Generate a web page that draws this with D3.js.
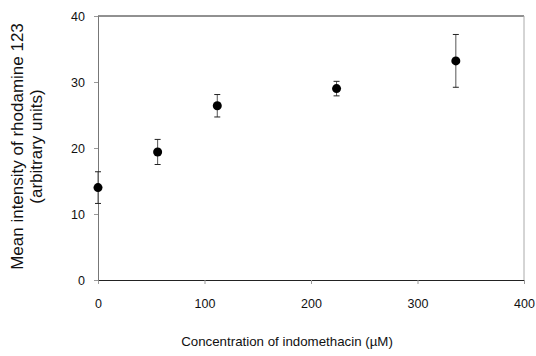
<!DOCTYPE html>
<html>
<head>
<meta charset="utf-8">
<script src="https://cdn.jsdelivr.net/npm/d3@7"></script>
<style>
  body { margin: 0; background: #fff; }
  text { font-family: "Liberation Sans", Arial, sans-serif; fill: #111; }
</style>
</head>
<body>
<div id="chart"></div>
<script>
const concentration = [0, 56, 112, 224, 336];
const meanIntensity = [14.0, 19.4, 26.4, 29.0, 33.2];
const errorSize = [2.4, 1.9, 1.7, 1.1, 4.0];
const xTicks = [0, 100, 200, 300, 400];
const yTicks = [0, 10, 20, 30, 40];

const width = 536;
const height = 356;
const margin = {top: 16, right: 12, bottom: 76, left: 98};

const svg = d3.select("#chart")
    .append("svg")
    .attr("width", width)
    .attr("height", height);

const xScale = d3.scaleLinear().domain([0, 400]).range([margin.left, width - margin.right]);
const yScale = d3.scaleLinear().domain([0, 40]).range([height - margin.bottom, margin.top]);

// frame: top black, right light gray
svg.append("line")
    .attr("x1", xScale(0)).attr("x2", xScale(400))
    .attr("y1", yScale(40)).attr("y2", yScale(40))
    .attr("stroke", "#222").attr("stroke-width", 1);
svg.append("line")
    .attr("x1", xScale(400)).attr("x2", xScale(400))
    .attr("y1", yScale(40)).attr("y2", yScale(0))
    .attr("stroke", "#aaa").attr("stroke-width", 1);

// x axis
const xAxis = svg.append("g")
    .attr("transform", "translate(0," + yScale(0) + ")")
    .call(d3.axisBottom(xScale).tickValues(xTicks).tickSize(4).tickPadding(15));
xAxis.select(".domain").attr("stroke", "#222");
xAxis.selectAll(".tick line").attr("stroke", "#999");
xAxis.selectAll("text").attr("font-size", 12.5).style("fill", "#111");

// y axis
const yAxis = svg.append("g")
    .attr("transform", "translate(" + xScale(0) + ",0)")
    .call(d3.axisLeft(yScale).tickValues(yTicks).tickSize(4).tickPadding(9));
yAxis.select(".domain").attr("stroke", "#777");
yAxis.selectAll(".tick line").attr("stroke", "#999");
yAxis.selectAll("text").attr("font-size", 12.5).style("fill", "#111");

const pts = concentration.map((c, i) => ({x: c, y: meanIntensity[i], e: errorSize[i]}));

// error bars
svg.selectAll(".err")
    .data(pts)
    .enter()
    .append("line")
    .attr("class", "err")
    .attr("x1", d => xScale(d.x)).attr("x2", d => xScale(d.x))
    .attr("y1", d => yScale(d.y + d.e)).attr("y2", d => yScale(d.y - d.e))
    .attr("stroke", "#555").attr("stroke-width", 1);

["top", "bottom"].forEach(side => {
    svg.selectAll(".cap-" + side)
        .data(pts)
        .enter()
        .append("line")
        .attr("class", "cap-" + side)
        .attr("x1", d => xScale(d.x) - 3).attr("x2", d => xScale(d.x) + 3)
        .attr("y1", d => yScale(side == "top" ? d.y + d.e : d.y - d.e))
        .attr("y2", d => yScale(side == "top" ? d.y + d.e : d.y - d.e))
        .attr("stroke", "#222").attr("stroke-width", 1);
});

svg.selectAll("circle")
    .data(pts)
    .enter()
    .append("circle")
    .attr("cx", d => xScale(d.x))
    .attr("cy", d => yScale(d.y))
    .attr("r", 4.5)
    .attr("fill", "#000");

// axis titles
svg.append("text")
    .attr("x", 287)
    .attr("y", 346)
    .attr("text-anchor", "middle")
    .attr("font-size", 13.3)
    .text("Concentration of indomethacin (\u00b5M)");

const yTitle = svg.append("text")
    .attr("transform", "translate(23," + 146.5 + ") rotate(-90)")
    .attr("text-anchor", "middle")
    .attr("font-size", 17);
yTitle.append("tspan").attr("x", 0).attr("dy", 0).text("Mean intensity of rhodamine 123");
yTitle.append("tspan").attr("x", 0).attr("dy", 19).text("(arbitrary units)");
</script>
</body>
</html>
